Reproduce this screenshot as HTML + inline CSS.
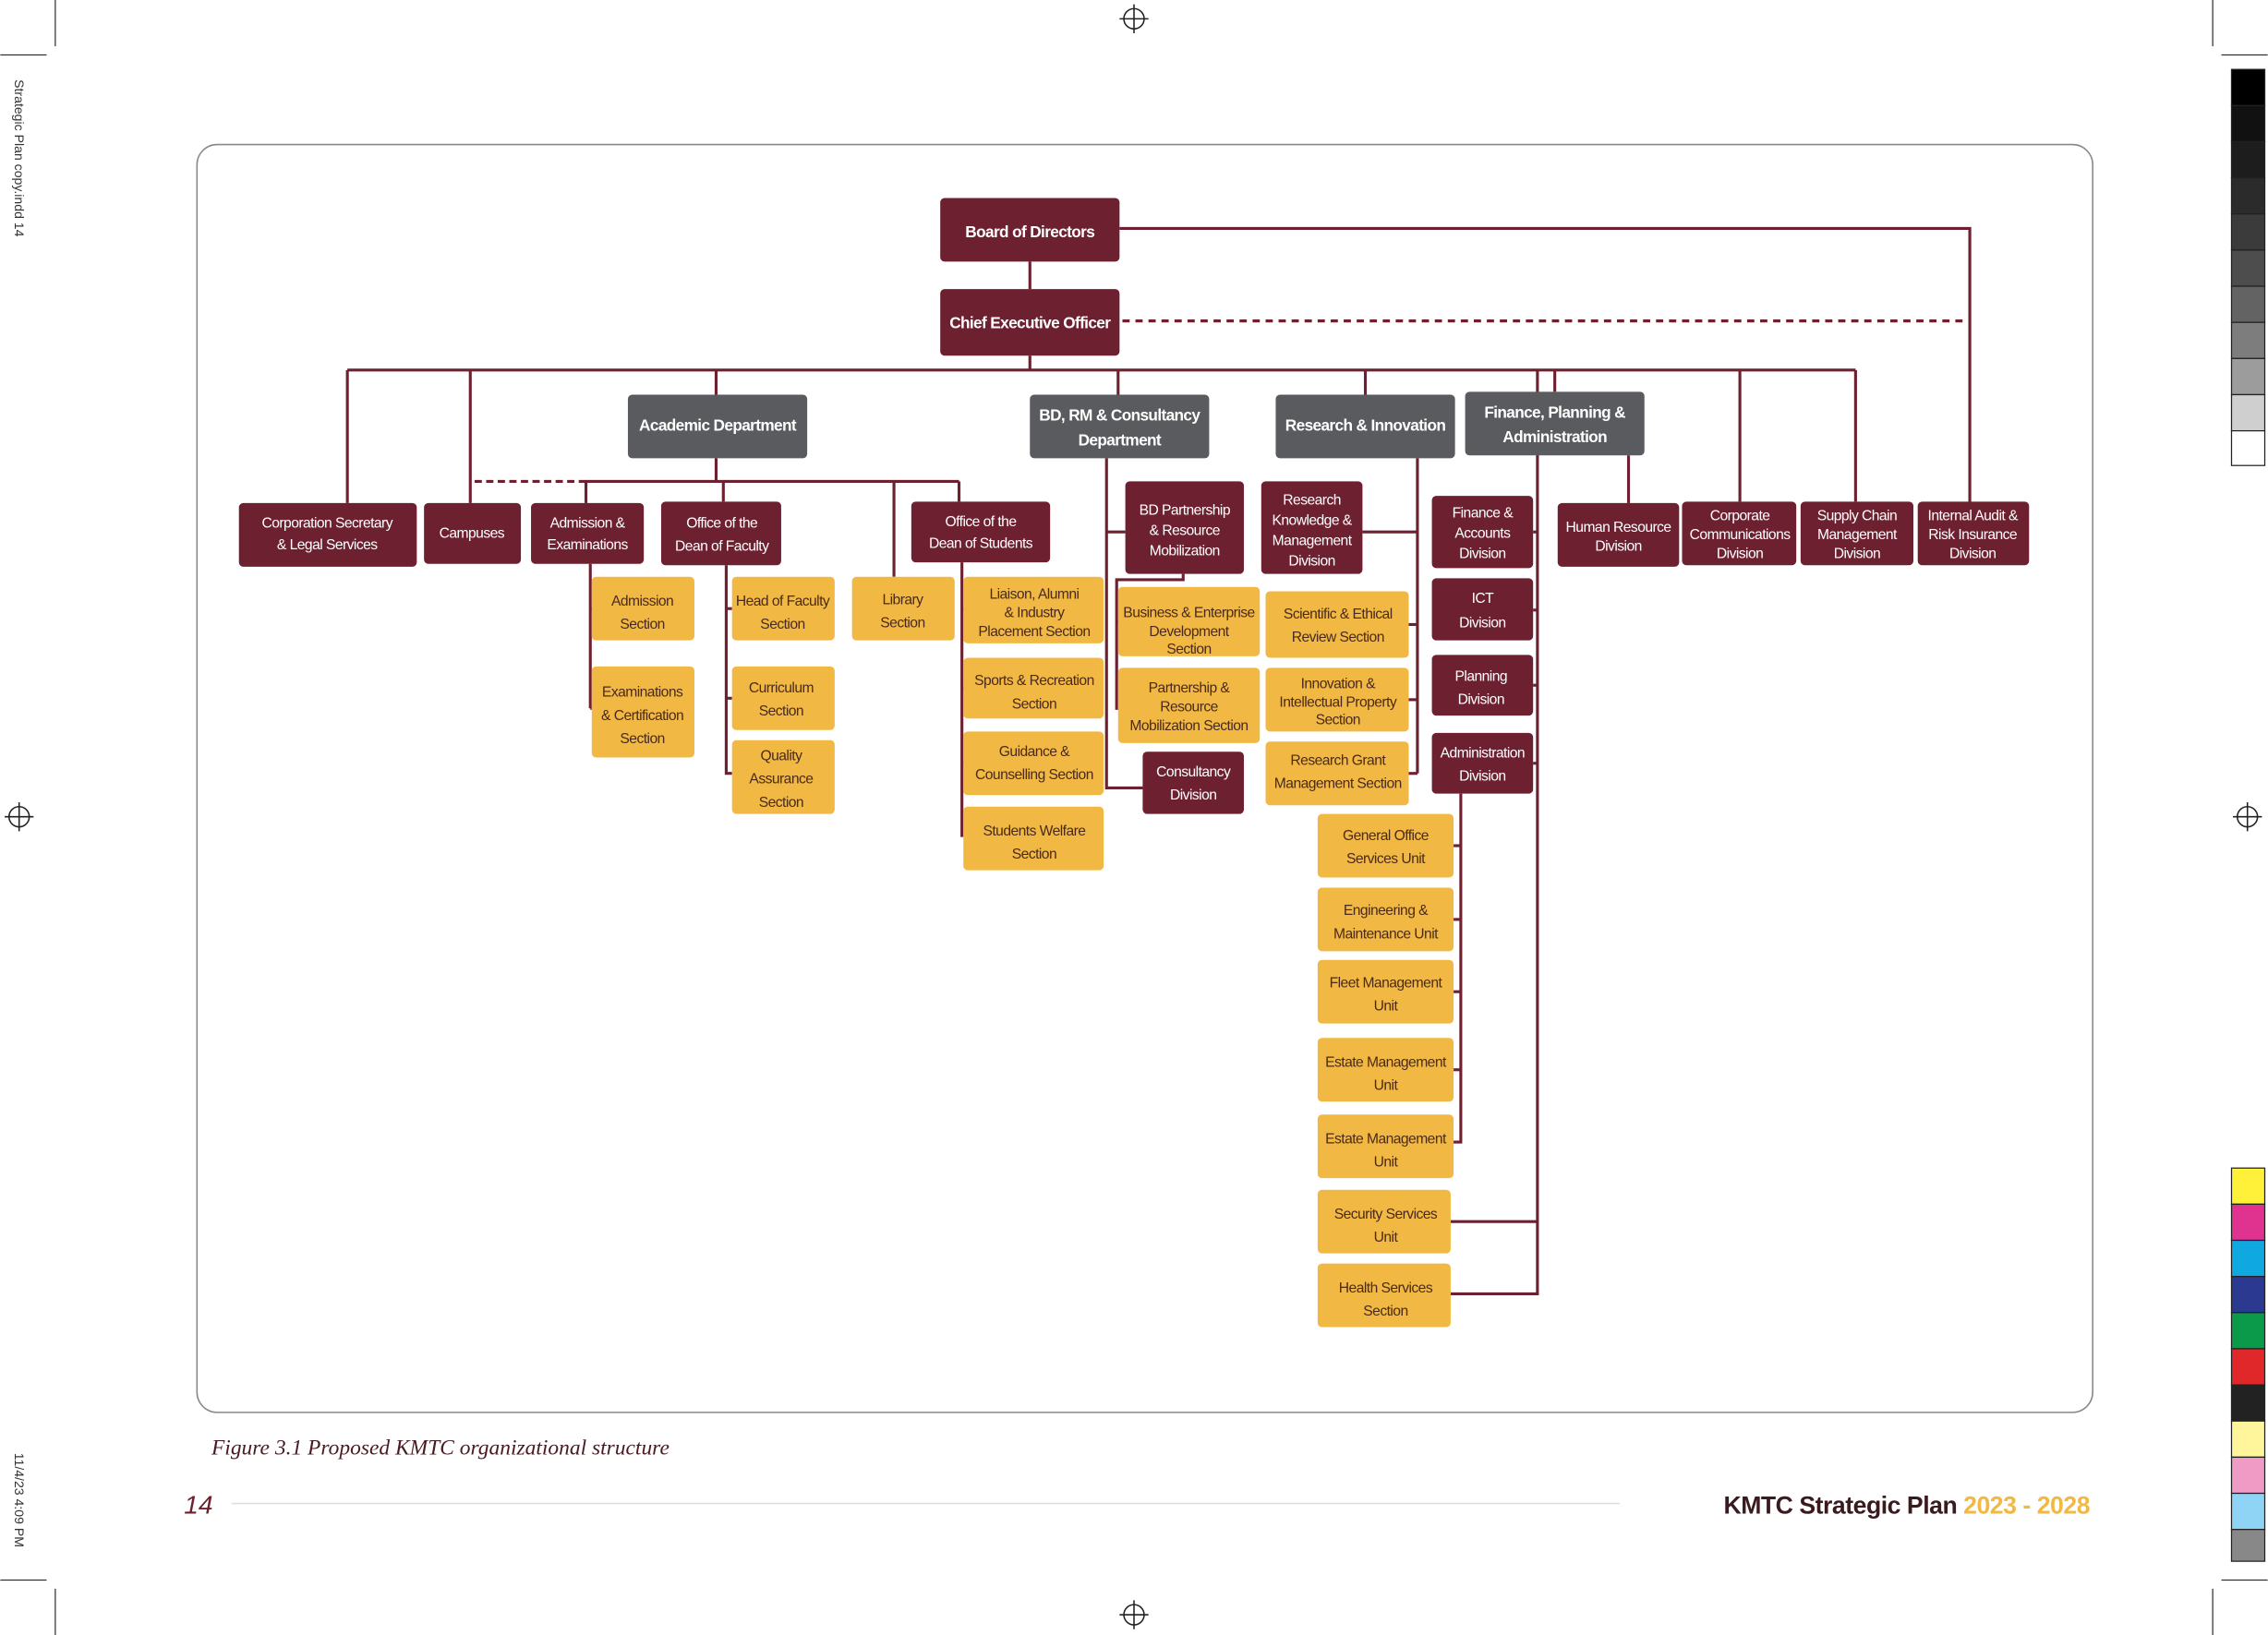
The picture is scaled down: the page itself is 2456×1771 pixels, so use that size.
<!DOCTYPE html>
<html><head><meta charset="utf-8">
<style>
html,body{margin:0;padding:0;background:#fff;}
svg{display:block;}
.m{fill:#6d2130;}
.g{fill:#5a5b5e;}
.y{fill:#f1b944;}
.tw{fill:#fff;font-family:"Liberation Sans",sans-serif;font-size:10px;letter-spacing:-0.35px;text-anchor:middle;}
.tb{fill:#fff;font-family:"Liberation Sans",sans-serif;font-size:11px;font-weight:bold;letter-spacing:-0.4px;text-anchor:middle;}
.ty{fill:#4a2a1a;font-family:"Liberation Sans",sans-serif;font-size:10px;letter-spacing:-0.35px;text-anchor:middle;}
.l{stroke:#6d2130;stroke-width:2;fill:none;}
</style></head>
<body>
<svg width="2456" height="1771" viewBox="0 0 1568 1131" xmlns="http://www.w3.org/2000/svg">
<rect width="1568" height="1131" fill="#fff"/>
<g stroke="#333" stroke-width="0.8">
<line x1="38" y1="0" x2="38" y2="32"/><line x1="0" y1="38" x2="32" y2="38"/>
<line x1="1530" y1="0" x2="1530" y2="32"/><line x1="1536" y1="38" x2="1568" y2="38"/>
<line x1="38" y1="1099" x2="38" y2="1131"/><line x1="0" y1="1093" x2="32" y2="1093"/>
<line x1="1530" y1="1099" x2="1530" y2="1131"/><line x1="1536" y1="1093" x2="1568" y2="1093"/>
</g>
<g stroke="#222" fill="none" stroke-width="1">
<circle cx="784" cy="13" r="7"/><line x1="774" y1="13" x2="794" y2="13"/><line x1="784" y1="3" x2="784" y2="23"/>
<circle cx="784" cy="1117" r="7"/><line x1="774" y1="1117" x2="794" y2="1117"/><line x1="784" y1="1107" x2="784" y2="1127"/>
<circle cx="13" cy="565" r="7"/><line x1="3" y1="565" x2="23" y2="565"/><line x1="13" y1="555" x2="13" y2="575"/>
<circle cx="1554" cy="565" r="7"/><line x1="1544" y1="565" x2="1564" y2="565"/><line x1="1554" y1="555" x2="1554" y2="575"/>
</g>
<text transform="translate(10,55) rotate(90)" font-family="Liberation Sans" font-size="9" fill="#333">Strategic Plan copy.indd   14</text>
<text transform="translate(10,1005) rotate(90)" font-family="Liberation Sans" font-size="9" fill="#333">11/4/23   4:09 PM</text>
<g stroke="#222" stroke-width="0.8">
<rect x="1543" y="48" width="23" height="25" fill="#000"/><rect x="1543" y="73" width="23" height="25" fill="#111"/>
<rect x="1543" y="98" width="23" height="25" fill="#1d1d1d"/><rect x="1543" y="123" width="23" height="25" fill="#2b2b2b"/>
<rect x="1543" y="148" width="23" height="25" fill="#3b3b3b"/><rect x="1543" y="173" width="23" height="25" fill="#4d4d4d"/>
<rect x="1543" y="198" width="23" height="25" fill="#636363"/><rect x="1543" y="223" width="23" height="25" fill="#7d7d7d"/>
<rect x="1543" y="248" width="23" height="25" fill="#9c9c9c"/><rect x="1543" y="273" width="23" height="25" fill="#cfcfcf"/>
<rect x="1543" y="298" width="23" height="24" fill="#fff"/>
<rect x="1543" y="808" width="23" height="25" fill="#fff03a"/><rect x="1543" y="833" width="23" height="25" fill="#e0328f"/>
<rect x="1543" y="858" width="23" height="25" fill="#10a8e0"/><rect x="1543" y="883" width="23" height="25" fill="#2b3990"/>
<rect x="1543" y="908" width="23" height="25" fill="#0a9a4a"/><rect x="1543" y="933" width="23" height="25" fill="#e0282a"/>
<rect x="1543" y="958" width="23" height="25" fill="#222"/><rect x="1543" y="983" width="23" height="25" fill="#fff59a"/>
<rect x="1543" y="1008" width="23" height="25" fill="#f09ac6"/><rect x="1543" y="1033" width="23" height="25" fill="#8fd4f4"/>
<rect x="1543" y="1058" width="23" height="22" fill="#888"/>
</g>
<rect x="136" y="100" width="1311" height="877" rx="14" fill="none" stroke="#888" stroke-width="1"/>

<g class="l">
<polyline points="774,158 1362,158 1362,348"/>
<line x1="712" y1="181" x2="712" y2="200"/>
<line x1="712" y1="246" x2="712" y2="256"/>
<line x1="240" y1="256" x2="1283" y2="256"/>
<line x1="240" y1="256" x2="240" y2="348"/>
<line x1="325" y1="256" x2="325" y2="348"/>
<line x1="495" y1="256" x2="495" y2="273"/>
<line x1="773" y1="256" x2="773" y2="273"/>
<line x1="944" y1="256" x2="944" y2="273"/>
<line x1="1075" y1="256" x2="1075" y2="271"/>
<line x1="1203" y1="256" x2="1203" y2="347"/>
<line x1="1283" y1="256" x2="1283" y2="347"/>
<line x1="1126" y1="315" x2="1126" y2="348"/>
<line x1="495" y1="317" x2="495" y2="333"/>
<line x1="400" y1="333" x2="663" y2="333"/>
<line x1="405" y1="333" x2="405" y2="348"/>
<line x1="500" y1="333" x2="500" y2="347"/>
<line x1="618" y1="333" x2="618" y2="399"/>
<line x1="663" y1="333" x2="663" y2="347"/>
<polyline points="408,390 408,490"/>
<line x1="408" y1="421" x2="409" y2="421"/><line x1="408" y1="490" x2="409" y2="490"/>
<polyline points="502,391 502,535 506,535"/>
<line x1="502" y1="421" x2="506" y2="421"/><line x1="502" y1="483" x2="506" y2="483"/>
<polyline points="665,389 665,578 666,578"/>
<line x1="665" y1="422" x2="666" y2="422"/><line x1="665" y1="476" x2="666" y2="476"/><line x1="665" y1="528" x2="666" y2="528"/>
<polyline points="765,317 765,545 790,545"/>
<line x1="765" y1="368" x2="778" y2="368"/>
<polyline points="818,397 818,401 772,401 772,490 773,490"/>
<line x1="772" y1="430" x2="773" y2="430"/>
<line x1="980" y1="317" x2="980" y2="535"/>
<line x1="942" y1="368" x2="980" y2="368"/>
<line x1="974" y1="432" x2="980" y2="432"/><line x1="974" y1="484" x2="980" y2="484"/><line x1="974" y1="535" x2="980" y2="535"/>
<polyline points="1063,256 1063,895 1003,895"/>
<line x1="1003" y1="845" x2="1063" y2="845"/>
<line x1="1060" y1="368" x2="1063" y2="368"/><line x1="1060" y1="422" x2="1063" y2="422"/>
<line x1="1060" y1="474" x2="1063" y2="474"/><line x1="1060" y1="528" x2="1063" y2="528"/>
<polyline points="1010,549 1010,790 1005,790"/>
<line x1="1005" y1="585" x2="1010" y2="585"/><line x1="1005" y1="636" x2="1010" y2="636"/>
<line x1="1005" y1="686" x2="1010" y2="686"/><line x1="1005" y1="740" x2="1010" y2="740"/>
</g>
<line x1="776" y1="222" x2="1362" y2="222" stroke="#6d2130" stroke-width="2" stroke-dasharray="5,4"/>
<line x1="328" y1="333" x2="400" y2="333" stroke="#6d2130" stroke-width="2" stroke-dasharray="5,3"/>

<rect class="m" x="650" y="137" width="124" height="44" rx="3"/>
<text class="tb" x="712" y="164">Board of Directors</text>
<rect class="m" x="650" y="200" width="124" height="46" rx="3"/>
<text class="tb" x="712" y="227">Chief Executive Officer</text>

<rect class="g" x="434" y="273" width="124" height="44" rx="3"/>
<text class="tb" x="496" y="298">Academic Department</text>
<rect class="g" x="712" y="273" width="124" height="44" rx="3"/>
<text class="tb" x="774" y="291">BD, RM &amp; Consultancy</text><text class="tb" x="774" y="308">Department</text>
<rect class="g" x="882" y="273" width="124" height="44" rx="3"/>
<text class="tb" x="944" y="298">Research &amp; Innovation</text>
<rect class="g" x="1013" y="271" width="124" height="44" rx="3"/>
<text class="tb" x="1075" y="289">Finance, Planning &amp;</text><text class="tb" x="1075" y="306">Administration</text>

<rect class="m" x="165" y="348" width="123" height="44" rx="3"/>
<text class="tw" x="226" y="365">Corporation Secretary</text><text class="tw" x="226" y="380">&amp; Legal Services</text>
<rect class="m" x="293" y="348" width="67" height="42" rx="3"/>
<text class="tw" x="326" y="372">Campuses</text>
<rect class="m" x="367" y="348" width="78" height="42" rx="3"/>
<text class="tw" x="406" y="365">Admission &amp;</text><text class="tw" x="406" y="380">Examinations</text>
<rect class="m" x="457" y="347" width="83" height="44" rx="3"/>
<text class="tw" x="499" y="365">Office of the</text><text class="tw" x="499" y="381">Dean of Faculty</text>
<rect class="m" x="630" y="347" width="96" height="42" rx="3"/>
<text class="tw" x="678" y="364">Office of the</text><text class="tw" x="678" y="379">Dean of Students</text>
<rect class="m" x="1077" y="348" width="84" height="44" rx="3"/>
<text class="tw" x="1119" y="368">Human Resource</text><text class="tw" x="1119" y="381">Division</text>
<rect class="m" x="1163" y="347" width="79" height="44" rx="3"/>
<text class="tw" x="1203" y="360">Corporate</text><text class="tw" x="1203" y="373">Communications</text><text class="tw" x="1203" y="386">Division</text>
<rect class="m" x="1245" y="347" width="78" height="44" rx="3"/>
<text class="tw" x="1284" y="360">Supply Chain</text><text class="tw" x="1284" y="373">Management</text><text class="tw" x="1284" y="386">Division</text>
<rect class="m" x="1326" y="347" width="77" height="44" rx="3"/>
<text class="tw" x="1364" y="360">Internal Audit &amp;</text><text class="tw" x="1364" y="373">Risk Insurance</text><text class="tw" x="1364" y="386">Division</text>

<rect class="y" x="409" y="399" width="71" height="44" rx="3"/>
<text class="ty" x="444" y="419">Admission</text><text class="ty" x="444" y="435">Section</text>
<rect class="y" x="409" y="461" width="71" height="63" rx="3"/>
<text class="ty" x="444" y="482">Examinations</text><text class="ty" x="444" y="498">&amp; Certification</text><text class="ty" x="444" y="514">Section</text>
<rect class="y" x="506" y="399" width="71" height="44" rx="3"/>
<text class="ty" x="541" y="419">Head of Faculty</text><text class="ty" x="541" y="435">Section</text>
<rect class="y" x="506" y="461" width="71" height="44" rx="3"/>
<text class="ty" x="540" y="479">Curriculum</text><text class="ty" x="540" y="495">Section</text>
<rect class="y" x="506" y="512" width="71" height="51" rx="3"/>
<text class="ty" x="540" y="526">Quality</text><text class="ty" x="540" y="542">Assurance</text><text class="ty" x="540" y="558">Section</text>
<rect class="y" x="589" y="399" width="71" height="44" rx="3"/>
<text class="ty" x="624" y="418">Library</text><text class="ty" x="624" y="434">Section</text>
<rect class="y" x="666" y="399" width="97" height="46" rx="3"/>
<text class="ty" x="715" y="414">Liaison, Alumni</text><text class="ty" x="715" y="427">&amp; Industry</text><text class="ty" x="715" y="440">Placement Section</text>
<rect class="y" x="666" y="455" width="97" height="42" rx="3"/>
<text class="ty" x="715" y="474">Sports &amp; Recreation</text><text class="ty" x="715" y="490">Section</text>
<rect class="y" x="666" y="506" width="97" height="44" rx="3"/>
<text class="ty" x="715" y="523">Guidance &amp;</text><text class="ty" x="715" y="539">Counselling Section</text>
<rect class="y" x="666" y="558" width="97" height="44" rx="3"/>
<text class="ty" x="715" y="578">Students Welfare</text><text class="ty" x="715" y="594">Section</text>

<rect class="m" x="778" y="333" width="82" height="64" rx="3"/>
<text class="tw" x="819" y="356">BD Partnership</text><text class="tw" x="819" y="370">&amp; Resource</text><text class="tw" x="819" y="384">Mobilization</text>
<rect class="y" x="773" y="406" width="98" height="48" rx="3"/>
<text class="ty" x="822" y="427">Business &amp; Enterprise</text><text class="ty" x="822" y="440">Development</text><text class="ty" x="822" y="452">Section</text>
<rect class="y" x="773" y="462" width="98" height="52" rx="3"/>
<text class="ty" x="822" y="479">Partnership &amp;</text><text class="ty" x="822" y="492">Resource</text><text class="ty" x="822" y="505">Mobilization Section</text>
<rect class="m" x="790" y="520" width="70" height="43" rx="3"/>
<text class="tw" x="825" y="537">Consultancy</text><text class="tw" x="825" y="553">Division</text>

<rect class="m" x="872" y="333" width="70" height="64" rx="3"/>
<text class="tw" x="907" y="349">Research</text><text class="tw" x="907" y="363">Knowledge &amp;</text><text class="tw" x="907" y="377">Management</text><text class="tw" x="907" y="391">Division</text>
<rect class="y" x="875" y="409" width="99" height="46" rx="3"/>
<text class="ty" x="925" y="428">Scientific &amp; Ethical</text><text class="ty" x="925" y="444">Review Section</text>
<rect class="y" x="875" y="462" width="99" height="44" rx="3"/>
<text class="ty" x="925" y="476">Innovation &amp;</text><text class="ty" x="925" y="489">Intellectual Property</text><text class="ty" x="925" y="501">Section</text>
<rect class="y" x="875" y="513" width="99" height="44" rx="3"/>
<text class="ty" x="925" y="529">Research Grant</text><text class="ty" x="925" y="545">Management Section</text>

<rect class="m" x="990" y="343" width="70" height="50" rx="3"/>
<text class="tw" x="1025" y="358">Finance &amp;</text><text class="tw" x="1025" y="372">Accounts</text><text class="tw" x="1025" y="386">Division</text>
<rect class="m" x="990" y="400" width="70" height="43" rx="3"/>
<text class="tw" x="1025" y="417">ICT</text><text class="tw" x="1025" y="434">Division</text>
<rect class="m" x="990" y="453" width="70" height="42" rx="3"/>
<text class="tw" x="1024" y="471">Planning</text><text class="tw" x="1024" y="487">Division</text>
<rect class="m" x="990" y="507" width="70" height="42" rx="3"/>
<text class="tw" x="1025" y="524">Administration</text><text class="tw" x="1025" y="540">Division</text>

<rect class="y" x="911" y="563" width="94" height="44" rx="3"/>
<text class="ty" x="958" y="581">General Office</text><text class="ty" x="958" y="597">Services Unit</text>
<rect class="y" x="911" y="614" width="94" height="44" rx="3"/>
<text class="ty" x="958" y="633">Engineering &amp;</text><text class="ty" x="958" y="649">Maintenance Unit</text>
<rect class="y" x="911" y="664" width="94" height="44" rx="3"/>
<text class="ty" x="958" y="683">Fleet Management</text><text class="ty" x="958" y="699">Unit</text>
<rect class="y" x="911" y="718" width="94" height="44" rx="3"/>
<text class="ty" x="958" y="738">Estate Management</text><text class="ty" x="958" y="754">Unit</text>
<rect class="y" x="911" y="771" width="94" height="44" rx="3"/>
<text class="ty" x="958" y="791">Estate Management</text><text class="ty" x="958" y="807">Unit</text>
<rect class="y" x="911" y="823" width="92" height="44" rx="3"/>
<text class="ty" x="958" y="843">Security Services</text><text class="ty" x="958" y="859">Unit</text>
<rect class="y" x="911" y="874" width="92" height="44" rx="3"/>
<text class="ty" x="958" y="894">Health Services</text><text class="ty" x="958" y="910">Section</text>

<text x="146" y="1006" font-family="Liberation Serif" font-style="italic" font-size="15" fill="#4a1a22">Figure 3.1 Proposed KMTC organizational structure</text>
<text x="127" y="1047" font-family="Liberation Sans" font-style="italic" font-size="18" fill="#6d2130">14</text>
<line x1="160" y1="1040" x2="1120" y2="1040" stroke="#ddd" stroke-width="1"/>
<text x="1445" y="1047" text-anchor="end" font-family="Liberation Sans" font-weight="bold" font-size="17" letter-spacing="-0.3" fill="#3a1a1e">KMTC Strategic Plan <tspan fill="#f1b944">2023 - 2028</tspan></text>
</svg>
</body></html>
